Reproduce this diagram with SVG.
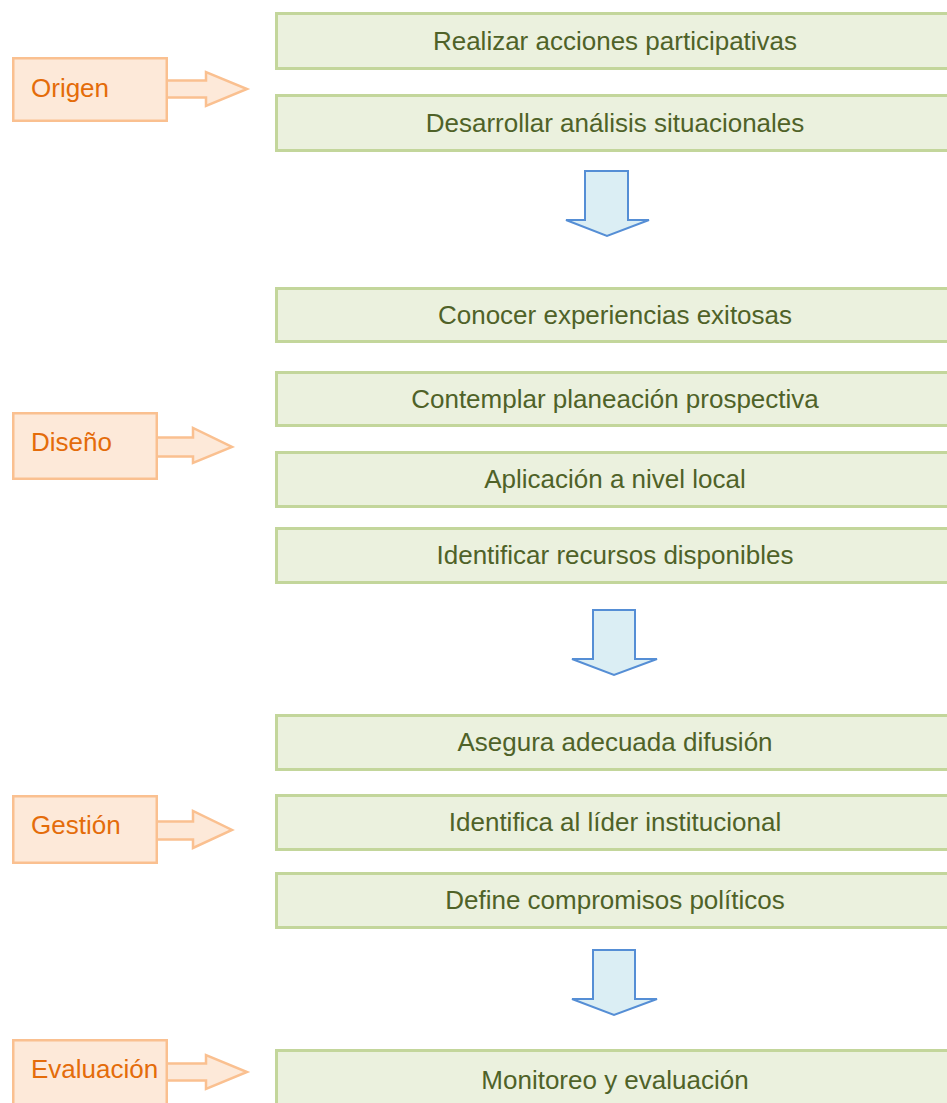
<svg xmlns="http://www.w3.org/2000/svg" width="947" height="1103" viewBox="0 0 947 1103">
<style>
.g rect{fill:#EBF1DE;stroke:#C3D69B;stroke-width:3}
.g text{font-family:"Liberation Sans",Arial,sans-serif;font-size:26px;fill:#4F6228;text-anchor:middle}
.o rect,.o polygon{fill:#FDE9D9;stroke:#FAC090;stroke-width:2.5}
.o text{font-family:"Liberation Sans",Arial,sans-serif;font-size:26px;fill:#E46C0A}
.b{fill:#DBEEF4;stroke:#558ED5;stroke-width:2;stroke-linejoin:miter}
</style>
<rect width="947" height="1103" fill="#fff"/>
<g id="origen" class="o">
<polygon points="160,80.5 206,80.5 206,72 247,89 206,106 206,97.5 160,97.5"/>
<rect x="13.25" y="58.25" width="153.5" height="62.5"/>
<text x="31" y="97">Origen</text>
</g>
<g id="diseno" class="o">
<polygon points="150,437.5 193,437.5 193,428 232,447 193,463 193,456.5 150,456.5"/>
<rect x="13.25" y="413.25" width="143.5" height="65.5"/>
<text x="31" y="451">Diseño</text>
</g>
<g id="gestion" class="o">
<polygon points="150,821.5 193,821.5 193,811 232,830 193,848 193,839.5 150,839.5"/>
<rect x="13.25" y="796.25" width="143.5" height="66.5"/>
<text x="31" y="834">Gestión</text>
</g>
<g id="evaluacion" class="o">
<polygon points="160,1063.5 206,1063.5 206,1055 247,1072 206,1089 206,1080.5 160,1080.5"/>
<rect x="13.25" y="1040.25" width="153.5" height="70"/>
<text x="31" y="1078">Evaluación</text>
</g>
<g id="n1" class="g"><rect x="276.5" y="13.5" width="690" height="55"/><text x="615" y="50">Realizar acciones participativas</text></g>
<g id="n2" class="g"><rect x="276.5" y="95.5" width="690" height="55"/><text x="615" y="132">Desarrollar análisis situacionales</text></g>
<g id="n3" class="g"><rect x="276.5" y="288.5" width="690" height="53"/><text x="615" y="324">Conocer experiencias exitosas</text></g>
<g id="n4" class="g"><rect x="276.5" y="372.5" width="690" height="53"/><text x="615" y="408">Contemplar planeación prospectiva</text></g>
<g id="n5" class="g"><rect x="276.5" y="452.5" width="690" height="54"/><text x="615" y="488">Aplicación a nivel local</text></g>
<g id="n6" class="g"><rect x="276.5" y="528.5" width="690" height="54"/><text x="615" y="564">Identificar recursos disponibles</text></g>
<g id="n7" class="g"><rect x="276.5" y="715.5" width="690" height="54"/><text x="615" y="751">Asegura adecuada difusión</text></g>
<g id="n8" class="g"><rect x="276.5" y="795.5" width="690" height="54"/><text x="615" y="831">Identifica al líder institucional</text></g>
<g id="n9" class="g"><rect x="276.5" y="873.5" width="690" height="54"/><text x="615" y="909">Define compromisos políticos</text></g>
<g id="n10" class="g"><rect x="276.5" y="1050.5" width="690" height="70"/><text x="615" y="1089">Monitoreo y evaluación</text></g>
<g id="connectors">
<polygon class="b" points="585,171 628,171 628,220 649,220 607,236 566,220 585,220"/>
<polygon class="b" points="593,610 635,610 635,659 657,659 614,675 572,659 593,659"/>
<polygon class="b" points="593,950 635,950 635,999 657,999 614,1015 572,999 593,999"/>
</g>
</svg>
